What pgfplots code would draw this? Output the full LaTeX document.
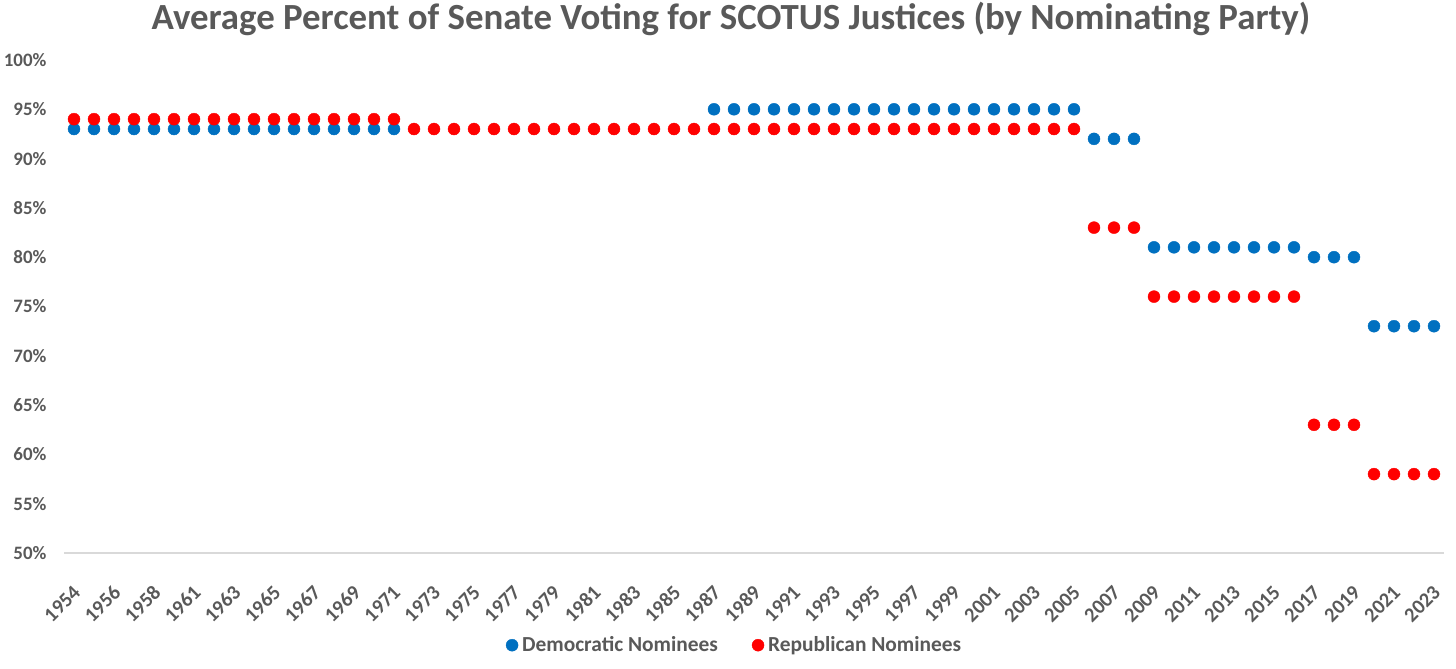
\documentclass[border=0pt]{standalone}
\usepackage{pgfplots}
\pgfplotsset{compat=1.18}
\usepackage{fontspec}
\setmainfont{Carlito}
\definecolor{dem}{HTML}{0070C0}
\definecolor{rep}{HTML}{FF0000}
\definecolor{txt}{HTML}{595959}
\definecolor{axl}{HTML}{D9D9D9}
\begin{document}
\begin{tikzpicture}[x=1bp,y=1bp]
\path[use as bounding box] (0,0) rectangle (1456,669);
\node[font=\fontsize{37}{40}\selectfont\bfseries, text=txt] at (731,650) {Average Percent of Senate Voting for SCOTUS Justices (by Nominating Party)};
\begin{axis}[
  at={(64bp,116bp)}, anchor=south west,
  scale only axis, width=1380bp, height=493bp,
  xmin=-0.5, xmax=68.5, ymin=50, ymax=100,
  axis y line=none,
  axis x line*=bottom,
  x axis line style={draw=axl, line width=1.5pt, -},
  xtick={0,2,...,68},
  xticklabels={1954,1956,1958,1961,1963,1965,1967,1969,1971,1973,1975,1977,1979,1981,1983,1985,1987,1989,1991,1993,1995,1997,1999,2001,2003,2005,2007,2009,2011,2013,2015,2017,2019,2021,2023},
  major tick length=0pt,
  xticklabel style={xshift=-2bp, yshift=-31bp, rotate=45, anchor=north east, inner sep=0pt, font=\fontsize{20.5}{22}\selectfont\bfseries, text=txt},
  ytick={50,55,...,100},
  clip=false,
  legend style={at={(0.486,-0.187)}, anchor=center, draw=none, font=\fontsize{21.5}{24}\selectfont\bfseries, text=txt, /tikz/every even column/.append style={column sep=32bp}, /tikz/every odd column/.append style={column sep=2bp}},
  legend columns=2,
  legend image code/.code={\draw[#1] plot coordinates {(0bp,0bp)};},
]
\foreach \v in {50,55,...,100} {
  \edef\tmp{\noexpand\node[anchor=east, font=\noexpand\fontsize{19}{21}\noexpand\selectfont\noexpand\bfseries, text=txt] at (axis cs:-0.5,\v) [xshift=-14bp] {\v\noexpand\%};}
  \tmp
}
\addplot[only marks, mark=*, mark size=6bp, dem, mark options={draw=dem, fill=dem}] coordinates {
(0,93)(1,93)(2,93)(3,93)(4,93)(5,93)(6,93)(7,93)(8,93)(9,93)(10,93)(11,93)(12,93)(13,93)(14,93)(15,93)(16,93)
(32,95)(33,95)(34,95)(35,95)(36,95)(37,95)(38,95)(39,95)(40,95)(41,95)(42,95)(43,95)(44,95)(45,95)(46,95)(47,95)(48,95)(49,95)(50,95)
(51,92)(52,92)(53,92)
(54,81)(55,81)(56,81)(57,81)(58,81)(59,81)(60,81)(61,81)
(62,80)(63,80)(64,80)
(65,73)(66,73)(67,73)(68,73)
};
\addlegendentry{Democratic Nominees}
\addplot[only marks, mark=*, mark size=6bp, rep, mark options={draw=rep, fill=rep}] coordinates {
(0,94)(1,94)(2,94)(3,94)(4,94)(5,94)(6,94)(7,94)(8,94)(9,94)(10,94)(11,94)(12,94)(13,94)(14,94)(15,94)(16,94)
(17,93)(18,93)(19,93)(20,93)(21,93)(22,93)(23,93)(24,93)(25,93)(26,93)(27,93)(28,93)(29,93)(30,93)(31,93)(32,93)(33,93)(34,93)(35,93)(36,93)(37,93)(38,93)(39,93)(40,93)(41,93)(42,93)(43,93)(44,93)(45,93)(46,93)(47,93)(48,93)(49,93)(50,93)
(51,83)(52,83)(53,83)
(54,76)(55,76)(56,76)(57,76)(58,76)(59,76)(60,76)(61,76)
(62,63)(63,63)(64,63)
(65,58)(66,58)(67,58)(68,58)
};
\addlegendentry{Republican Nominees}
\end{axis}
\end{tikzpicture}
\end{document}
